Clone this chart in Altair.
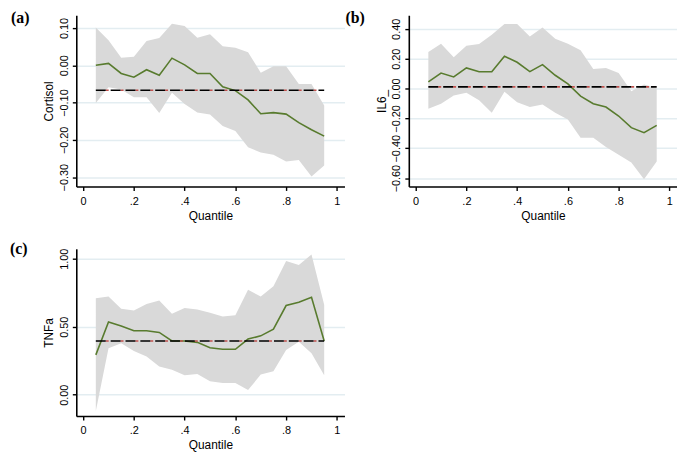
import altair as alt
import pandas as pd

quantile = [0.05, 0.10, 0.15, 0.20, 0.25, 0.30, 0.35, 0.40, 0.45, 0.50,
            0.55, 0.60, 0.65, 0.70, 0.75, 0.80, 0.85, 0.90, 0.95]

cort_coef = [0.000, 0.005, -0.022, -0.032, -0.012, -0.027, 0.019, 0.001, -0.022, -0.022,
             -0.058, -0.068, -0.093, -0.130, -0.127, -0.131, -0.154, -0.173, -0.190]
cort_hi = [0.101, 0.067, 0.020, 0.023, 0.065, 0.073, 0.111, 0.105, 0.074, 0.083,
           0.051, 0.047, 0.035, -0.020, -0.003, -0.003, -0.050, -0.050, -0.108]
cort_lo = [-0.101, -0.059, -0.065, -0.086, -0.086, -0.128, -0.074, -0.104, -0.127, -0.132,
           -0.163, -0.176, -0.220, -0.234, -0.240, -0.258, -0.254, -0.298, -0.269]
cort_ols = -0.067

il6_coef = [0.044, 0.104, 0.078, 0.138, 0.113, 0.113, 0.216, 0.176, 0.113, 0.160,
            0.089, 0.031, -0.051, -0.102, -0.124, -0.184, -0.262, -0.296, -0.247]
il6_hi = [0.244, 0.300, 0.209, 0.287, 0.298, 0.360, 0.433, 0.433, 0.349, 0.409,
          0.333, 0.300, 0.256, 0.131, 0.138, 0.104, -0.018, 0.027, 0.004]
il6_lo = [-0.136, -0.102, -0.047, -0.029, -0.078, -0.162, -0.022, -0.091, -0.124, -0.107,
          -0.162, -0.207, -0.329, -0.329, -0.391, -0.444, -0.496, -0.607, -0.489]
il6_ols = 0.011

tnf_coef = [0.293, 0.535, 0.506, 0.470, 0.470, 0.458, 0.395, 0.395, 0.385, 0.346,
            0.334, 0.334, 0.409, 0.433, 0.482, 0.656, 0.680, 0.717, 0.395]
tnf_hi = [0.709, 0.722, 0.632, 0.620, 0.668, 0.692, 0.596, 0.637, 0.627, 0.603,
          0.576, 0.584, 0.772, 0.722, 0.797, 0.983, 0.954, 1.031, 0.661]
tnf_lo = [-0.119, 0.341, 0.378, 0.322, 0.281, 0.208, 0.184, 0.143, 0.153, 0.099,
          0.087, 0.087, 0.034, 0.148, 0.172, 0.329, 0.390, 0.305, 0.143]
tnf_ols = 0.395

x_ticks = [0, 0.2, 0.4, 0.6, 0.8, 1]

BAND = "#d9d9d9"
GREEN = "#587b2e"
RED = "#c0504d"
GRID = "#e3edf1"


def panel(coef, lo, hi, ols, ydom, yvals, ytitle, label, height, title_dx, title_offset):
    df = pd.DataFrame({"q": quantile, "coef": coef, "lo": lo, "hi": hi,
                       "ols": [ols] * len(quantile)})
    x = alt.X("q:Q", title="Quantile",
              scale=alt.Scale(domain=[-0.027, 1.03], nice=False, zero=False),
              axis=alt.Axis(values=x_ticks, grid=False, labelPadding=5, titlePadding=4,
                            labelExpr="datum.value == 0 ? '0' : datum.value == 1 ? '1' : '.' + round(datum.value * 10)"))
    yscale = alt.Scale(domain=ydom, nice=False, zero=False)
    yaxis = alt.Axis(values=yvals, format=".2f", grid=True, labelAngle=-90,
                     labelAlign="center", labelBaseline="bottom", labelOverlap=False)
    band = alt.Chart(df).mark_area(color=BAND, opacity=1).encode(
        x=x, y=alt.Y("lo:Q", title=ytitle, scale=yscale, axis=yaxis), y2="hi:Q")
    line = alt.Chart(df).mark_line(color=GREEN, strokeWidth=1.6).encode(
        x=x, y=alt.Y("coef:Q", title=ytitle, scale=yscale, axis=yaxis))
    red = alt.Chart(df).mark_line(color=RED, strokeWidth=1.6, strokeDash=[3, 12],
                                  strokeDashOffset=-10).encode(
        x=x, y=alt.Y("ols:Q", title=ytitle, scale=yscale, axis=yaxis))
    black = alt.Chart(df).mark_line(color="black", strokeWidth=1.6, strokeDash=[10, 5]).encode(
        x=x, y=alt.Y("ols:Q", title=ytitle, scale=yscale, axis=yaxis))
    return alt.layer(band, line, red, black).properties(
        width=271, height=height,
        title=alt.TitleParams(label, anchor="start", frame="group", dx=title_dx,
                              offset=title_offset, baseline="alphabetic"))


pa = panel(cort_coef, cort_lo, cort_hi, cort_ols, [-0.325, 0.134],
           [-0.3, -0.2, -0.1, 0.0, 0.1], "Cortisol", "(a)", 173, -66, -24)
pb = panel(il6_coef, il6_lo, il6_hi, il6_ols, [-0.656, 0.491],
           [-0.6, -0.4, -0.2, 0.0, 0.2, 0.4], "IL6_", "(b)", 173, -64, -24)
pc = panel(tnf_coef, tnf_lo, tnf_hi, tnf_ols, [-0.157, 1.073],
           [0.0, 0.5, 1.0], "TNFa", "(c)", 169, -67, -22)

chart = alt.concat(pa, pb, pc, columns=2, spacing={"row": 63, "column": 65},
                   bounds="flush").properties(padding={"left": 2, "top": 0, "right": 0, "bottom": 0})

chart = chart.configure_view(stroke=None).configure_axis(
    domainColor="black", domainWidth=1.6, tickColor="black", tickWidth=1.4, tickSize=4,
    labelFont="Liberation Sans", labelFontSize=11, labelColor="black", labelPadding=3,
    titleFont="Liberation Sans", titleFontSize=12, titleFontWeight="normal",
    titleColor="black", titlePadding=3, gridColor=GRID, gridWidth=1.5
).configure_title(font="Liberation Serif", fontSize=16, fontWeight="bold", color="black")

chart.save("out.html", embed_options={"renderer": "svg", "actions": False})
